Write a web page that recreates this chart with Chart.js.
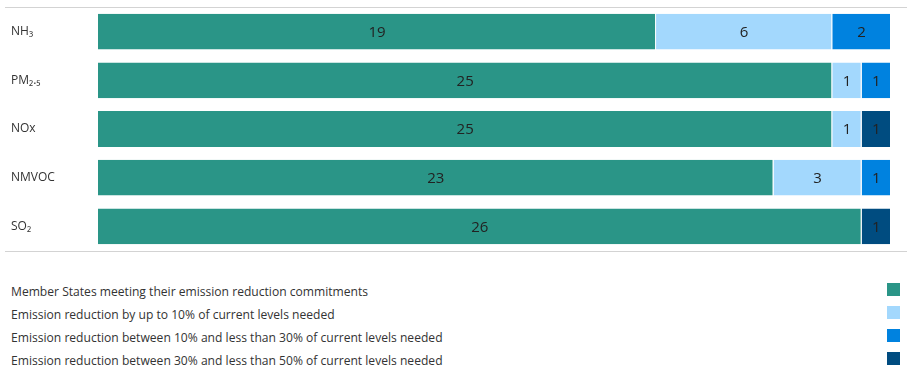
<!DOCTYPE html>
<html><head><meta charset="utf-8">
<script src="https://cdn.jsdelivr.net/npm/chart.js@4/dist/chart.umd.min.js"></script>
<style>
html,body{margin:0;padding:0;background:#fff;width:907px;height:377px;overflow:hidden;}
#wrap{position:absolute;left:0;top:0;width:907px;height:258px;}
#legend{position:absolute;left:0;top:278px;width:907px;font-family:"Open Sans",sans-serif;font-size:12.1px;color:#333;}
.li{position:absolute;left:11px;height:23px;width:890px;}
.li span{position:absolute;left:0;top:2px;line-height:23px;white-space:nowrap;}
.li i{position:absolute;left:876px;top:5px;width:13px;height:13px;}
</style></head>
<body>
<div id="wrap"><canvas id="c"></canvas></div>
<div id="legend"></div>
<script>
const categories = ["NH₃", "PM₂.₅", "NOx", "NMVOC", "SO₂"];
const seriesNames = [
  "Member States meeting their emission reduction commitments",
  "Emission reduction by up to 10% of current levels needed",
  "Emission reduction between 10% and less than 30% of current levels needed",
  "Emission reduction between 30% and less than 50% of current levels needed"
];
const meeting = [19, 25, 25, 23, 26];
const upTo10 = [6, 1, 1, 3, 0];
const from10to30 = [2, 1, 0, 1, 0];
const from30to50 = [0, 0, 1, 0, 1];
const colors = ["#2a9587", "#a3d8fd", "#0082df", "#004c80"];

const allSeries = [meeting, upTo10, from10to30, from30to50];
const datasets = allSeries.map((d, i) => ({
  label: seriesNames[i],
  data: d,
  backgroundColor: colors[i],
  borderColor: "#ffffff",
  borderWidth: {left: 0, right: 1, top: 0, bottom: 0},
  borderSkipped: false,
  barPercentage: 1,
  categoryPercentage: 0.735
}));

const labelPlugin = {
  id: "vals",
  afterDatasetsDraw(chart) {
    const ctx = chart.ctx;
    ctx.save();
    ctx.font = '15px "Open Sans", sans-serif';
    ctx.fillStyle = "#222";
    ctx.textAlign = "center";
    ctx.textBaseline = "middle";
    chart.data.datasets.forEach((ds, di) => {
      const meta = chart.getDatasetMeta(di);
      meta.data.forEach((el, i) => {
        const v = ds.data[i];
        if (!v) return;
        const cx = (el.x + el.base) / 2;
        ctx.fillText(String(v), cx, el.y + 1);
      });
    });
    ctx.restore();
  }
};
const linePlugin = {
  id: "lines",
  beforeDraw(chart) {
    const ctx = chart.ctx, a = chart.chartArea;
    ctx.save();
    ctx.strokeStyle = "#d3d3d3";
    ctx.lineWidth = 1;
    ctx.beginPath();
    ctx.moveTo(5, Math.round(a.top) + 0.5); ctx.lineTo(907, Math.round(a.top) + 0.5);
    ctx.moveTo(5, Math.round(a.bottom) + 0.5); ctx.lineTo(907, Math.round(a.bottom) + 0.5);
    ctx.stroke();
    ctx.restore();
  }
};

new Chart(document.getElementById("c"), {
  type: "bar",
  data: {labels: categories, datasets},
  options: {
    indexAxis: "y",
    responsive: true,
    maintainAspectRatio: false,
    animation: false,
    layout: {padding: {top: 6, bottom: 6, right: 16, left: 11}},
    plugins: {legend: {display: false}, tooltip: {enabled: false}},
    scales: {
      x: {stacked: true, display: false, min: 0, max: 27},
      y: {
        stacked: true,
        grid: {display: false},
        border: {display: false},
        ticks: {crossAlign: "far", color: "#333", font: {family: '"Open Sans", sans-serif', size: 12}, padding: 0},
        afterFit(s) { s.width = 87; }
      }
    }
  },
  plugins: [labelPlugin, linePlugin]
});

const lg = document.getElementById("legend");
seriesNames.forEach((n, i) => {
  const d = document.createElement("div");
  d.className = "li";
  d.style.top = (i * 23) + "px";
  d.innerHTML = "<span></span><i></i>";
  d.querySelector("span").textContent = n;
  d.querySelector("i").style.background = colors[i];
  lg.appendChild(d);
});
</script>
</body></html>
